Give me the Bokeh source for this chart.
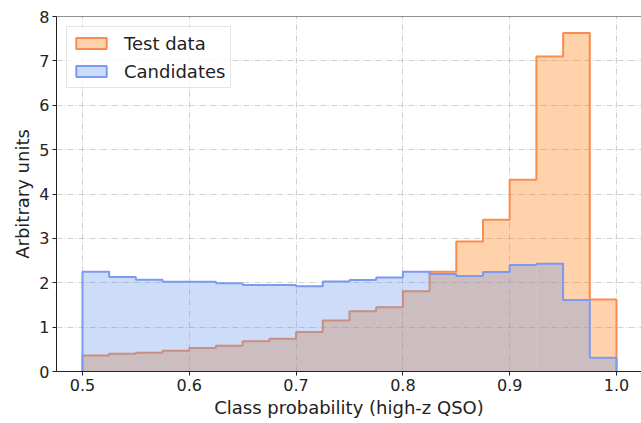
from bokeh.plotting import figure
from bokeh.models import Range1d, FixedTicker, PrintfTickFormatter, Legend, LegendItem, Span
from bokeh.embed import file_html
from bokeh.resources import INLINE

# ---- data ----
bin_edges = [0.500, 0.525, 0.550, 0.575, 0.600, 0.625, 0.650, 0.675, 0.700, 0.725,
             0.750, 0.775, 0.800, 0.825, 0.850, 0.875, 0.900, 0.925, 0.950, 0.975, 1.000]
test_data = [0.36, 0.40, 0.42, 0.47, 0.53, 0.58, 0.68, 0.74, 0.89, 1.15,
             1.36, 1.45, 1.81, 2.25, 2.93, 3.42, 4.32, 7.10, 7.63, 1.62]
candidates = [2.25, 2.13, 2.07, 2.02, 2.02, 1.99, 1.95, 1.95, 1.92, 2.03,
              2.06, 2.12, 2.25, 2.20, 2.15, 2.24, 2.40, 2.43, 1.61, 0.31]
x_ticks = [0.5, 0.6, 0.7, 0.8, 0.9, 1.0]
y_ticks = [0, 1, 2, 3, 4, 5, 6, 7, 8]

FONT = "DejaVu Sans"
ORANGE_FILL = "#ff7f0e"
ORANGE_EDGE = "#f98c4e"
BLUE_FILL = "#6495ed"
BLUE_EDGE = "#7b9af3"


def outline(edges, vals):
    xs = [edges[0]]
    ys = [0]
    for i, v in enumerate(vals):
        xs += [edges[i], edges[i + 1]]
        ys += [v, v]
    xs.append(edges[-1])
    ys.append(0)
    return xs, ys


p = figure(width=641, height=423, output_backend="svg", toolbar_location=None,
           x_range=Range1d(0.4757, 1.0234), y_range=Range1d(0, 8),
           min_border_left=56, min_border_top=16, min_border_right=0, min_border_bottom=52)
p.outline_line_color = None
p.background_fill_color = "white"
p.border_fill_color = "white"

lefts = bin_edges[:-1]
rights = bin_edges[1:]

# orange (drawn first)
p.quad(left=lefts, right=rights, top=test_data, bottom=0,
       fill_color=ORANGE_FILL, fill_alpha=0.35, line_color=None)
ox, oy = outline(bin_edges, test_data)
p.line(ox, oy, line_color=ORANGE_EDGE, line_width=2)

# blue on top
p.quad(left=lefts, right=rights, top=candidates, bottom=0,
       fill_color=BLUE_FILL, fill_alpha=0.33, line_color=None)
bx, by = outline(bin_edges, candidates)
p.line(bx, by, line_color=BLUE_EDGE, line_width=2)

# legend proxies (hidden, only used for the legend glyphs)
leg_o = p.quad(left=lefts, right=rights, top=test_data, bottom=0, fill_color=ORANGE_FILL,
               fill_alpha=0.35, line_color=ORANGE_EDGE, line_width=2, visible=False)
leg_b = p.quad(left=lefts, right=rights, top=candidates, bottom=0, fill_color=BLUE_FILL,
               fill_alpha=0.33, line_color=BLUE_EDGE, line_width=2, visible=False)

# top spine
p.add_layout(Span(location=8, dimension="width", line_color="#222222", line_width=1))

# axes
for ax in (p.xaxis, p.yaxis):
    ax.axis_line_color = "#222222"
    ax.major_tick_line_color = "#222222"
    ax.major_tick_out = 4
    ax.major_tick_in = 0
    ax.minor_tick_line_color = None
    ax.major_label_text_font = FONT
    ax.major_label_text_font_size = "16px"
    ax.major_label_text_color = "#222222"
    ax.axis_label_text_font = FONT
    ax.axis_label_text_font_size = "18px"
    ax.axis_label_text_font_style = "normal"
    ax.axis_label_text_color = "#222222"
    ax.major_label_standoff = 3
    ax.axis_label_standoff = 3

p.xaxis.ticker = FixedTicker(ticks=x_ticks)
p.xaxis.formatter = PrintfTickFormatter(format="%.1f")
p.yaxis.ticker = FixedTicker(ticks=y_ticks)
p.yaxis.formatter = PrintfTickFormatter(format="%d")
p.xaxis.axis_label = "Class probability (high-z QSO)"
p.yaxis.axis_label = "Arbitrary units"

for g in (p.xgrid, p.ygrid):
    g.grid_line_color = "#b0b0b0"
    g.grid_line_alpha = 0.6
    g.grid_line_dash = "6 2 1 2"
    g.grid_line_width = 1

legend = Legend(items=[LegendItem(label="Test data", renderers=[leg_o]),
                       LegendItem(label="Candidates", renderers=[leg_b])],
                location="top_left", margin=10, padding=5, spacing=6,
                glyph_width=38, glyph_height=14, label_height=22, label_standoff=14,
                label_text_font=FONT, label_text_font_size="18px", label_text_color="#222222",
                border_line_color="#cccccc", border_line_width=1,
                background_fill_color="white", background_fill_alpha=0.8)
p.add_layout(legend)

open("out.html", "w").write(file_html(p, INLINE))
